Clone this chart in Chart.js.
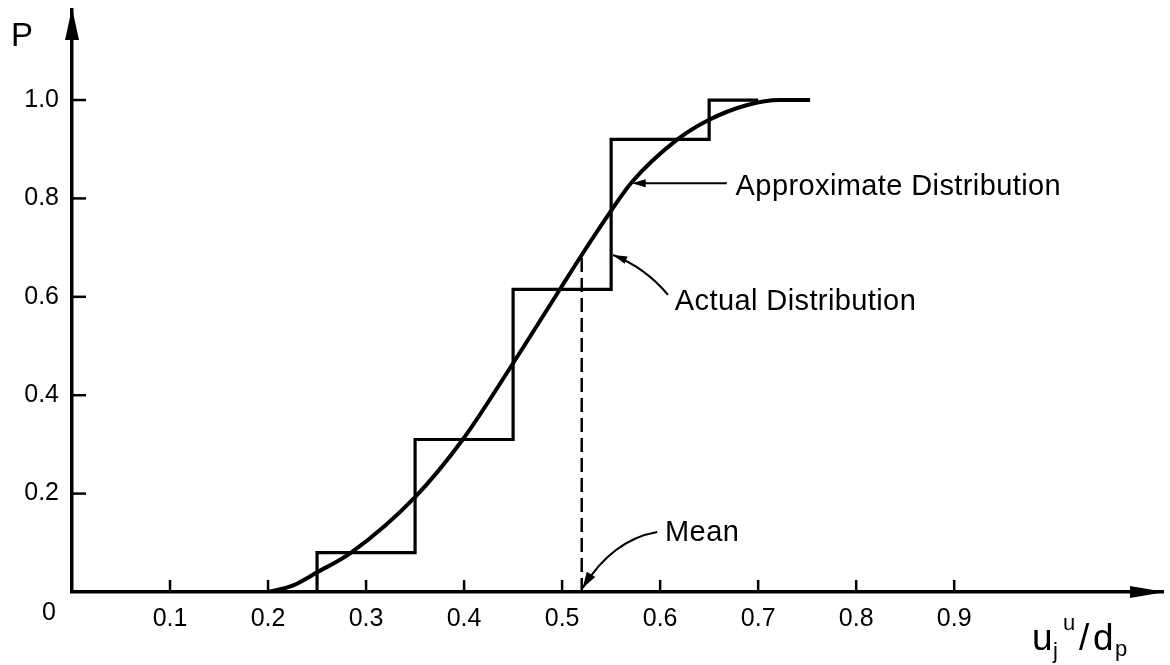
<!DOCTYPE html>
<html>
<head>
<meta charset="utf-8">
<script src="https://cdn.jsdelivr.net/npm/chart.js@4"></script>
<style>
  body { margin: 0; background: #fff; }
  canvas { display: block; }
</style>
</head>
<body>
<canvas id="dist" width="1170" height="665"></canvas>
<script>
// actual (smooth) cumulative distribution
var curveX = [0.2, 0.225, 0.25, 0.284, 0.35, 0.399, 0.45, 0.498, 0.52, 0.549, 0.571, 0.617, 0.649, 0.689, 0.722, 0.753];
var curveP = [0, 0.013, 0.04, 0.079, 0.193, 0.311, 0.465, 0.616, 0.685, 0.772, 0.833, 0.919, 0.959, 0.99, 1.0, 1.0];

// approximate (step) distribution
var stepX = [0.25, 0.25, 0.35, 0.45, 0.55, 0.65, 0.70];
var stepP = [0, 0.08, 0.31, 0.615, 0.92, 1.0, 1.0];

// mean
var meanX = 0.52;
var meanP = 0.685;

// tick labels
var xTicks = [0.1, 0.2, 0.3, 0.4, 0.5, 0.6, 0.7, 0.8, 0.9];
var yTicks = [0.2, 0.4, 0.6, 0.8, 1.0];

var FONT = '"Liberation Sans", Arial, Helvetica, sans-serif';

function toPoints(xs, ys) {
  return xs.map(function (v, i) { return { x: v, y: ys[i] }; });
}

function arrowHead(ctx, x, y, ang, len, half) {
  ctx.beginPath();
  ctx.moveTo(x, y);
  ctx.lineTo(x - len * Math.cos(ang) + half * Math.sin(ang), y - len * Math.sin(ang) - half * Math.cos(ang));
  ctx.lineTo(x - len * Math.cos(ang) - half * Math.sin(ang), y - len * Math.sin(ang) + half * Math.cos(ang));
  ctx.closePath();
  ctx.fill();
}

var overlay = {
  id: "overlay",
  afterDraw: function (chart) {
    var ctx = chart.ctx, a = chart.chartArea;
    var sx = chart.scales.x, sy = chart.scales.y;
    function px(v, p) { return [sx.getPixelForValue(v), sy.getPixelForValue(p)]; }

    ctx.save();
    ctx.strokeStyle = "#000";
    ctx.fillStyle = "#000";

    // inner tick marks
    ctx.lineWidth = 2.5;
    xTicks.forEach(function (v) {
      var x = sx.getPixelForValue(v);
      ctx.beginPath(); ctx.moveTo(x, a.bottom); ctx.lineTo(x, a.bottom - 12); ctx.stroke();
    });
    yTicks.forEach(function (v) {
      var y = sy.getPixelForValue(v);
      ctx.beginPath(); ctx.moveTo(a.left, y); ctx.lineTo(a.left + 14, y); ctx.stroke();
    });

    // axis arrows
    ctx.beginPath();
    ctx.moveTo(a.left, a.top - 2);
    ctx.lineTo(a.left - 7, a.top + 30);
    ctx.lineTo(a.left + 7, a.top + 30);
    ctx.closePath(); ctx.fill();
    ctx.beginPath();
    ctx.moveTo(a.right + 2, a.bottom);
    ctx.lineTo(a.right - 33, a.bottom - 6);
    ctx.lineTo(a.right - 33, a.bottom + 6);
    ctx.closePath(); ctx.fill();

    // origin label and axis titles
    ctx.font = "25px " + FONT;
    ctx.textAlign = "center"; ctx.textBaseline = "middle";
    ctx.fillText("0", a.left - 23, a.bottom + 21);

    ctx.textAlign = "left"; ctx.textBaseline = "alphabetic";
    ctx.font = "33px " + FONT;
    ctx.fillText("P", 11, 46);

    var tx = a.right - 131, ty = a.bottom + 58;
    ctx.font = "37px " + FONT;
    ctx.fillText("u", tx, ty);
    ctx.font = "22px " + FONT;
    ctx.fillText("j", tx + 21, ty + 8);
    ctx.fillText("u", tx + 31, ty - 20);
    ctx.font = "37px " + FONT;
    ctx.fillText("/", tx + 47, ty);
    ctx.fillText("d", tx + 61, ty);
    ctx.font = "22px " + FONT;
    ctx.fillText("p", tx + 83, ty + 6);

    // annotations
    ctx.font = "29px " + FONT;
    ctx.letterSpacing = "0.4px";
    ctx.textBaseline = "middle";
    var t;
    t = px(0.677, 0.823); ctx.fillText("Approximate Distribution", t[0], t[1]);
    t = px(0.615, 0.589); ctx.fillText("Actual Distribution", t[0], t[1]);
    t = px(0.605, 0.12); ctx.fillText("Mean", t[0], t[1]);

    ctx.lineWidth = 2;
    // approximate arrow (straight)
    var p0 = px(0.668, 0.831), p1 = px(0.571, 0.831);
    ctx.beginPath(); ctx.moveTo(p0[0], p0[1]); ctx.lineTo(p1[0] + 8, p1[1]); ctx.stroke();
    arrowHead(ctx, p1[0], p1[1], Math.atan2(p1[1] - p0[1], p1[0] - p0[0]), 14, 4);

    // actual arrow (curved)
    var c;
    p0 = px(0.608, 0.604); c = px(0.585, 0.659); p1 = px(0.552, 0.685);
    ctx.beginPath(); ctx.moveTo(p0[0], p0[1]); ctx.quadraticCurveTo(c[0], c[1], p1[0], p1[1]); ctx.stroke();
    arrowHead(ctx, p1[0], p1[1], Math.atan2(p1[1] - c[1], p1[0] - c[0]), 14, 4);

    // mean arrow (curved)
    p0 = px(0.597, 0.122); c = px(0.551, 0.106); p1 = px(0.521, 0.008);
    ctx.beginPath(); ctx.moveTo(p0[0], p0[1]); ctx.quadraticCurveTo(c[0], c[1], p1[0], p1[1]); ctx.stroke();
    arrowHead(ctx, p1[0], p1[1], Math.atan2(p1[1] - c[1], p1[0] - c[0]), 16, 5);

    ctx.restore();
  }
};

new Chart("dist", {
  type: "line",
  data: {
    datasets: [{
      data: toPoints(curveX, curveP),
      borderColor: "#000",
      borderWidth: 4,
      cubicInterpolationMode: "monotone",
      pointRadius: 0,
      fill: false
    }, {
      data: toPoints(stepX, stepP),
      borderColor: "#000",
      borderWidth: 3.2,
      stepped: true,
      pointRadius: 0,
      fill: false
    }, {
      data: [{ x: meanX, y: 0 }, { x: meanX, y: meanP }],
      borderColor: "#000",
      borderWidth: 2.5,
      borderDash: [14, 6],
      pointRadius: 0,
      fill: false
    }]
  },
  options: {
    responsive: false,
    animation: false,
    devicePixelRatio: 1,
    layout: { padding: { top: 10, right: 7, left: 0, bottom: 0 } },
    plugins: {
      legend: { display: false },
      tooltip: { enabled: false }
    },
    scales: {
      x: {
        type: "linear",
        min: 0,
        max: 1.113,
        afterFit: function (scale) {
          scale.height = 73;
          scale.paddingLeft = 0;
          scale.paddingRight = 0;
        },
        afterBuildTicks: function (scale) {
          scale.ticks = xTicks.map(function (v) { return { value: v }; });
        },
        grid: { display: false },
        border: { display: true, color: "#000", width: 3.5 },
        ticks: {
          color: "#000",
          padding: 4,
          maxRotation: 0,
          font: { family: FONT, size: 25 },
          callback: function (v) { return v.toFixed(1); }
        }
      },
      y: {
        type: "linear",
        min: 0,
        max: 1.183,
        afterFit: function (scale) {
          scale.width = 72;
          scale.paddingTop = 0;
          scale.paddingBottom = 0;
        },
        afterBuildTicks: function (scale) {
          scale.ticks = yTicks.map(function (v) { return { value: v }; });
        },
        grid: { display: false },
        border: { display: true, color: "#000", width: 3.5 },
        ticks: {
          color: "#000",
          padding: 5,
          font: { family: FONT, size: 25 },
          callback: function (v) { return v.toFixed(1); }
        }
      }
    }
  },
  plugins: [overlay]
});
</script>
</body>
</html>
